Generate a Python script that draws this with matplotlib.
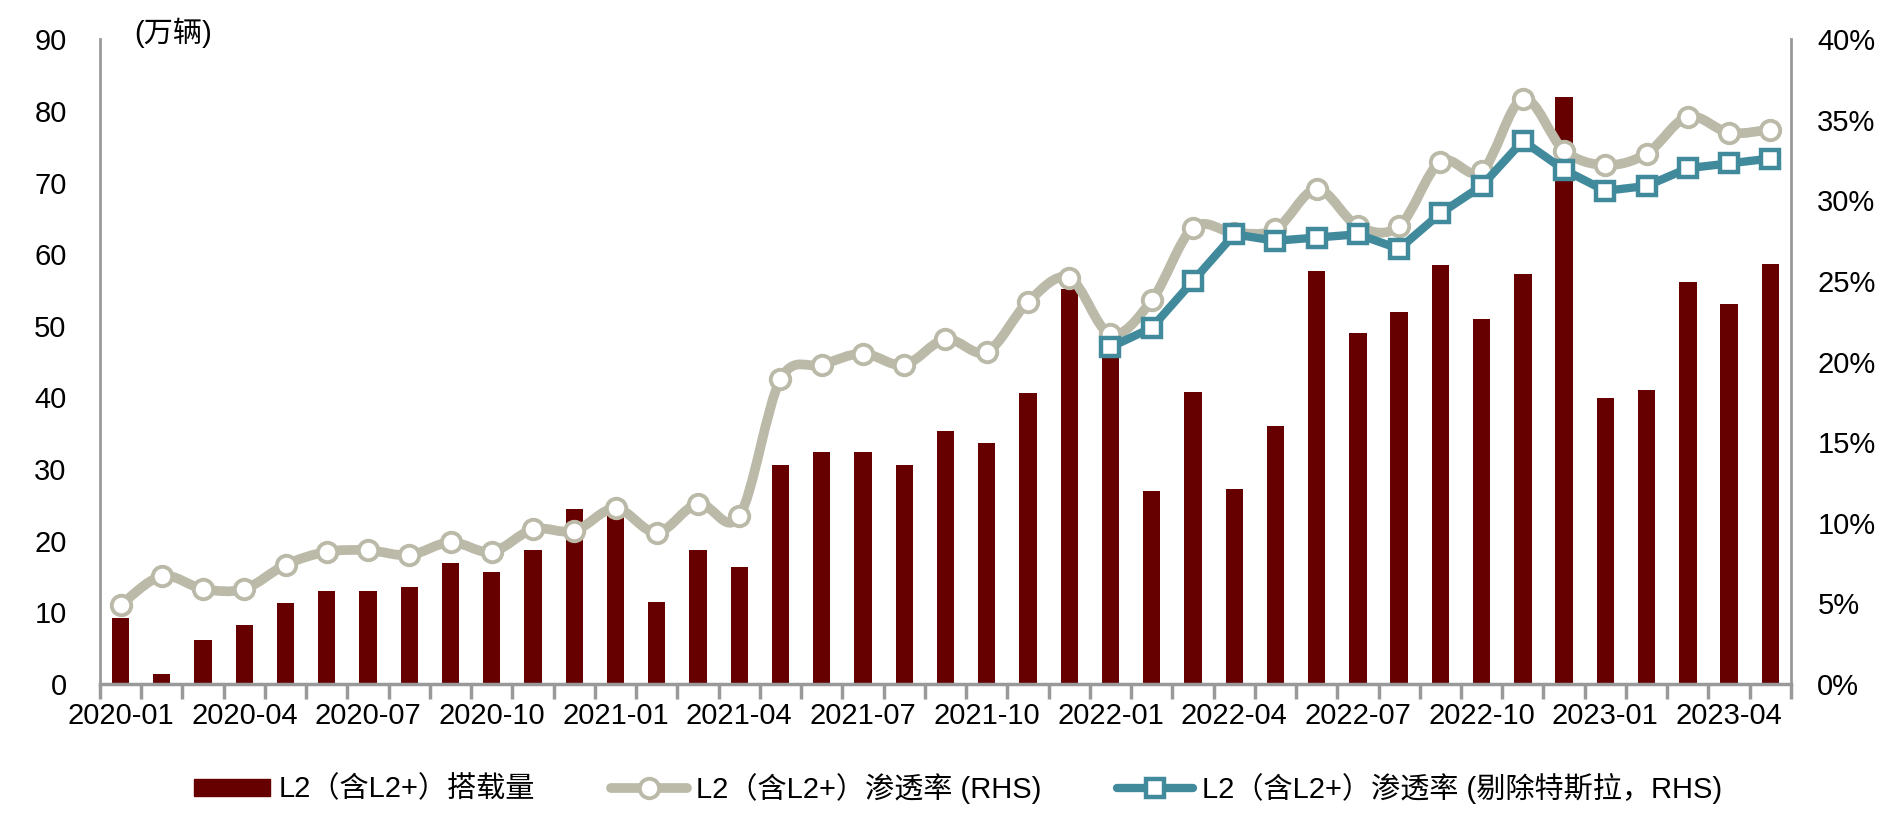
import matplotlib
matplotlib.use("Agg")
import matplotlib.pyplot as plt
import numpy as np
from matplotlib.path import Path
from matplotlib.patches import PathPatch
from matplotlib.lines import Line2D
from matplotlib.ticker import FuncFormatter

plt.rcParams['font.family'] = ['Liberation Sans', 'Noto Sans CJK SC']

"""Data"""

months = ['2020-01', '2020-02', '2020-03', '2020-04', '2020-05', '2020-06', '2020-07', '2020-08',
          '2020-09', '2020-10', '2020-11', '2020-12', '2021-01', '2021-02', '2021-03', '2021-04',
          '2021-05', '2021-06', '2021-07', '2021-08', '2021-09', '2021-10', '2021-11', '2021-12',
          '2022-01', '2022-02', '2022-03', '2022-04', '2022-05', '2022-06', '2022-07', '2022-08',
          '2022-09', '2022-10', '2022-11', '2022-12', '2023-01', '2023-02', '2023-03', '2023-04',
          '2023-05']

# L2 (incl. L2+) installations, 10k units
volume = [9.2, 1.4, 6.1, 8.2, 11.3, 13.0, 13.0, 13.6, 16.9, 15.6, 18.7, 24.4, 23.4, 11.5, 18.7, 16.4,
          30.6, 32.4, 32.4, 30.6, 35.3, 33.7, 40.6, 55.2, 47.0, 27.0, 40.7, 27.2, 36.0, 57.7, 49.0, 52.0,
          58.5, 51.0, 57.2, 82.0, 39.9, 41.0, 56.1, 53.0, 58.7]

# penetration rate, %
rate = [4.9, 6.7, 5.9, 5.9, 7.4, 8.2, 8.3, 8.0, 8.8, 8.2, 9.6, 9.5, 10.9, 9.4, 11.2, 10.4,
        18.9, 19.8, 20.5, 19.8, 21.4, 20.6, 23.7, 25.2, 21.7, 23.8, 28.3, 28.0, 28.2, 30.7, 28.4, 28.4,
        32.4, 31.8, 36.3, 33.1, 32.2, 32.9, 35.2, 34.2, 34.4]

# penetration rate excluding Tesla, %, from 2022-01
rate_ex_tesla = [20.9, 22.1, 25.0, 27.9, 27.5, 27.7, 27.9, 27.0, 29.2, 30.9, 33.7, 31.9, 30.6, 30.9,
                 32.0, 32.3, 32.6]

label_bar = 'L2（含L2+）搭载量'
label_rate = 'L2（含L2+）渗透率 (RHS)'
label_ex = 'L2（含L2+）渗透率 (剔除特斯拉，RHS)'

RED = '#660000'
GRAY = '#BBBAA8'
TEAL = '#418A9C'
AXIS = '#999999'
FS = 21


def smooth_path(xs, ys):
    # cubic bezier through the points (like a spreadsheet "smoothed line")
    pts = np.column_stack([xs, ys]).astype(float)
    n = len(pts)
    verts = [pts[0]]
    codes = [Path.MOVETO]
    for i in range(n - 1):
        p0 = pts[i - 1] if i > 0 else pts[i]
        p1 = pts[i]
        p2 = pts[i + 1]
        p3 = pts[i + 2] if i + 2 < n else pts[i + 1]
        c1 = p1 + (p2 - p0) / 6.0
        c2 = p2 - (p3 - p1) / 6.0
        verts += [c1, c2, p2]
        codes += [Path.CURVE4] * 3
    return Path(verts, codes)


"""Plot"""

fig = plt.figure(figsize=(18.97, 8.15), dpi=100)
ax = fig.add_axes([0.0527, 0.1607, 0.8914, 0.7911])
ax2 = ax.twinx()

x = np.arange(len(months))
ax.bar(x, volume, width=0.42, color=RED, zorder=2)

ax.set_xlim(-0.5, len(months) - 0.5)
ax.set_ylim(0, 90)
ax.set_yticks(np.arange(0, 91, 10))
ax2.set_ylim(0, 40)
ax2.set_yticks(np.arange(0, 41, 5))
ax2.yaxis.set_major_formatter(FuncFormatter(lambda v, p: '%d%%' % v))

# gray smoothed line + circle markers
patch = PathPatch(smooth_path(x, rate), fill=False, edgecolor=GRAY, lw=7, capstyle='round',
                  joinstyle='round', zorder=3)
ax2.add_patch(patch)
ax2.plot(x, rate, linestyle='none', marker='o', markersize=14, markerfacecolor='white',
         markeredgecolor=GRAY, markeredgewidth=2.8, zorder=4)

# teal line with squares
x_ex = x[len(months) - len(rate_ex_tesla):]
ax2.plot(x_ex, rate_ex_tesla, color=TEAL, lw=6, marker='s', markersize=13.5,
         markerfacecolor='white', markeredgecolor=TEAL, markeredgewidth=3.2, zorder=5,
         solid_joinstyle='round')

# axes styling
for a in (ax, ax2):
    a.spines['top'].set_visible(False)
    for s in ('left', 'right', 'bottom'):
        a.spines[s].set_color(AXIS)
        a.spines[s].set_linewidth(2)
    a.spines['bottom'].set_linewidth(2.5)

ax.spines['right'].set_visible(False)
ax2.spines['left'].set_visible(False)
ax2.spines['bottom'].set_visible(False)

ax.set_xticks(x[::3])
ax.set_xticklabels(months[::3])
ax.set_xticks(np.arange(-0.5, len(months), 1.0), minor=True)
ax.tick_params(axis='x', which='major', length=0, pad=13, labelsize=FS)
ax.tick_params(axis='x', which='minor', length=11, width=2.5, color=AXIS, direction='out')
ax.tick_params(axis='y', length=0, pad=24, labelsize=FS)
ax2.tick_params(axis='y', length=0, pad=19, labelsize=FS)

fig.text(0.0706, 0.9595, '(万辆)', fontsize=FS, ha='left', va='center')

# legend
h_bar = plt.Rectangle((0, 0), 1, 1, color=RED)
h_rate = Line2D([], [], color=GRAY, lw=7, marker='o', markersize=14, markerfacecolor='white',
                markeredgecolor=GRAY, markeredgewidth=2.8, solid_capstyle='round')
h_ex = Line2D([], [], color=TEAL, lw=6, marker='s', markersize=13.5, markerfacecolor='white',
              markeredgecolor=TEAL, markeredgewidth=3.2, solid_capstyle='round')
fig.legend([h_bar, h_rate, h_ex], [label_bar, label_rate, label_ex], loc='center',
           bbox_to_anchor=(0.505, 0.033), ncol=3, frameon=False, fontsize=FS,
           handlelength=2.6, handleheight=0.5, handletextpad=0.3, columnspacing=2.6)

fig.savefig('out.png', dpi=100)
